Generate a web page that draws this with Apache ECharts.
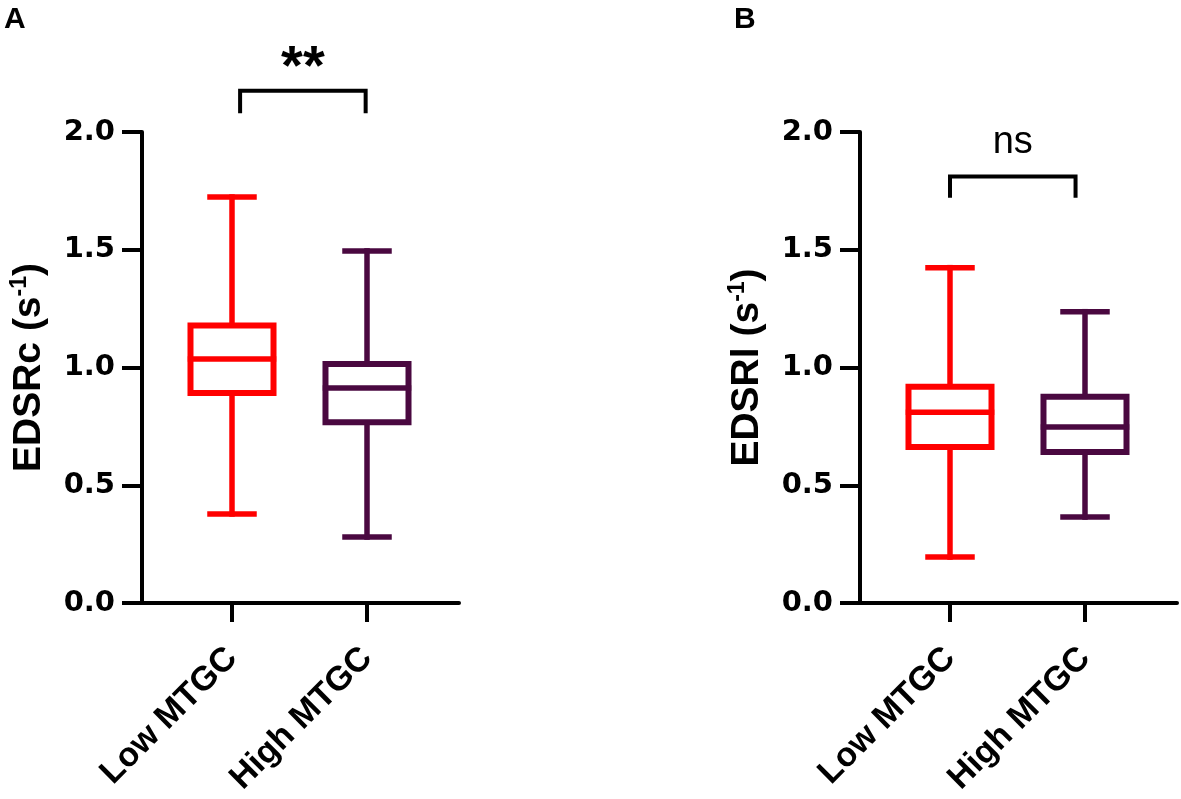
<!DOCTYPE html>
<html>
<head>
<meta charset="utf-8">
<title>EDSR boxplots</title>
<script src="https://cdn.jsdelivr.net/npm/echarts@6/dist/echarts.min.js"></script>
<style>
  html, body { margin: 0; padding: 0; background: #fff; }
  #chart { width: 1181px; height: 799px; }
</style>
</head>
<body>
<div id="chart"></div>
<script>
// groups on the x axis
var groups = ['Low MTGC', 'High MTGC'];
var groupColors = ['#ff0000', '#4a0840'];

// box stats per group: [min, Q1, median, Q3, max]
var edsrcLow = [0.378, 0.892, 1.036, 1.178, 1.724];
var edsrcHigh = [0.280, 0.768, 0.913, 1.015, 1.495];
var edsrlLow = [0.195, 0.662, 0.810, 0.918, 1.424];
var edsrlHigh = [0.365, 0.641, 0.747, 0.876, 1.237];

// y tick values
var yTicks = [0, 0.5, 1.0, 1.5, 2.0];

// significance brackets: [x start, x end, top, end of legs]
var bracketA = [0.06, 0.99, 2.175, 2.08];
var bracketB = [0.0, 0.93, 1.811, 1.721];
var signifLabels = ['**', 'ns'];

var BOX_W = 0.615;  // box width in x units
var CAP_W = 0.326;  // whisker cap width in x units
var ARIAL = "'Liberation Sans', Arial, sans-serif";

function boxData(low, high) {
	return [[0].concat(low), [1].concat(high)];
}

function renderBox(params, api) {
	var x = api.value(0);
	var color = groupColors[x];
	var pMin = api.coord([x, api.value(1)]);
	var pQ1 = api.coord([x, api.value(2)]);
	var pMed = api.coord([x, api.value(3)]);
	var pQ3 = api.coord([x, api.value(4)]);
	var pMax = api.coord([x, api.value(5)]);
	var half = api.size([BOX_W, 0])[0] / 2;
	var cap = api.size([CAP_W, 0])[0] / 2;
	var cx = pMed[0];
	var line = function (x1, y1, x2, y2, w) {
		return {
			type : 'line',
			shape : { x1 : x1, y1 : y1, x2 : x2, y2 : y2 },
			style : { stroke : color, lineWidth : w, lineCap : 'square' }
		};
	};
	return {
		type : 'group',
		children : [
			line(cx, pQ3[1], cx, pMax[1], 5.5),
			line(cx, pQ1[1], cx, pMin[1], 5.5),
			line(cx - cap, pMax[1], cx + cap, pMax[1], 5.5),
			line(cx - cap, pMin[1], cx + cap, pMin[1], 5.5),
			{
				type : 'rect',
				shape : { x : cx - half, y : pQ3[1], width : half * 2, height : pQ1[1] - pQ3[1] },
				style : { fill : '#fff', stroke : color, lineWidth : 6 }
			},
			line(cx - half, pMed[1], cx + half, pMed[1], 5.5)
		]
	};
}

function renderBracket(params, api) {
	var p0 = api.coord([api.value(0), api.value(2)]);
	var p1 = api.coord([api.value(1), api.value(2)]);
	var yEnd = api.coord([0, api.value(3)])[1];
	var label = signifLabels[params.seriesIndex === 1 ? 0 : 1];
	var isStar = label === '**';
	return {
		type : 'group',
		children : [ {
			type : 'polyline',
			shape : { points : [ [p0[0], yEnd], [p0[0], p0[1]], [p1[0], p1[1]], [p1[0], yEnd] ] },
			style : { stroke : '#000', lineWidth : 4, fill : null }
		}, {
			type : 'text',
			style : {
				text : label,
				x : (p0[0] + p1[0]) / 2,
				y : p0[1] - (isStar ? 22 : 34),
				align : 'center',
				verticalAlign : 'middle',
				fontSize : isStar ? 56 : 38,
				fontWeight : isStar ? 'bold' : 'normal',
				fontFamily : ARIAL,
				fill : '#000'
			}
		} ]
	};
}

function makeXAxis(gridIndex) {
	return {
		gridIndex : gridIndex,
		type : 'value',
		min : -0.6667,
		max : 1.6815,
		splitLine : { show : false },
		axisLine : { show : true, onZero : false, lineStyle : { color : '#000', width : 4 } },
		axisTick : { show : true, length : 19, customValues : [0, 1], lineStyle : { color : '#000', width : 4 } },
		axisLabel : {
			customValues : [0, 1],
			rotate : 45,
			margin : 50,
			color : '#000',
			fontSize : 34,
			fontWeight : 'bold',
			fontFamily : ARIAL,
			formatter : function (v) { return groups[Math.round(v)]; }
		}
	};
}

function makeYAxis(gridIndex, title) {
	return {
		gridIndex : gridIndex,
		type : 'value',
		min : yTicks[0],
		max : yTicks[yTicks.length - 1],
		interval : 0.5,
		name : '{a|' + title + ' (s}{b|-1}{a|)}',
		nameLocation : 'middle',
		nameGap : 92,
		nameRotate : 90,
		nameTextStyle : {
			rich : {
				a : { fontSize : 39, fontWeight : 'bold', fontFamily : ARIAL, color : '#000', lineHeight : 42 },
				b : { fontSize : 23, fontWeight : 'bold', fontFamily : ARIAL, color : '#000', verticalAlign : 'top', lineHeight : 42 }
			}
		},
		splitLine : { show : false },
		axisLine : { show : true, onZero : false, lineStyle : { color : '#000', width : 4 } },
		axisTick : { show : true, length : 20, lineStyle : { color : '#000', width : 4 } },
		axisLabel : {
			margin : 27,
			color : '#000',
			fontSize : 29,
			fontWeight : 'bold',
			fontFamily : "'DejaVu Sans', sans-serif",
			formatter : function (v) { return v.toFixed(1); }
		}
	};
}

var chart = echarts.init(document.getElementById('chart'));
var option = {
	backgroundColor : '#fff',
	animation : false,
	title : [ {
		text : 'A', left : -1, top : 0,
		textStyle : { fontSize : 30, fontWeight : 'bold', fontFamily : ARIAL, color : '#000' }
	}, {
		text : 'B', left : 729, top : 0,
		textStyle : { fontSize : 30, fontWeight : 'bold', fontFamily : ARIAL, color : '#000' }
	} ],
	grid : [
		{ left : 142, top : 132, width : 317, height : 471 },
		{ left : 860, top : 132, width : 317, height : 471 }
	],
	xAxis : [ makeXAxis(0), makeXAxis(1) ],
	yAxis : [ makeYAxis(0, 'EDSRc'), makeYAxis(1, 'EDSRl') ],
	series : [ {
		type : 'custom',
		xAxisIndex : 0, yAxisIndex : 0,
		renderItem : renderBox,
		encode : { x : 0, y : [1, 2, 3, 4, 5] },
		data : boxData(edsrcLow, edsrcHigh)
	}, {
		type : 'custom',
		xAxisIndex : 0, yAxisIndex : 0,
		renderItem : renderBracket,
		encode : { x : [0, 1], y : [2, 3] },
		data : [ bracketA ]
	}, {
		type : 'custom',
		xAxisIndex : 1, yAxisIndex : 1,
		renderItem : renderBox,
		encode : { x : 0, y : [1, 2, 3, 4, 5] },
		data : boxData(edsrlLow, edsrlHigh)
	}, {
		type : 'custom',
		xAxisIndex : 1, yAxisIndex : 1,
		renderItem : renderBracket,
		encode : { x : [0, 1], y : [2, 3] },
		data : [ bracketB ]
	} ]
};
chart.setOption(option);
</script>
</body>
</html>
